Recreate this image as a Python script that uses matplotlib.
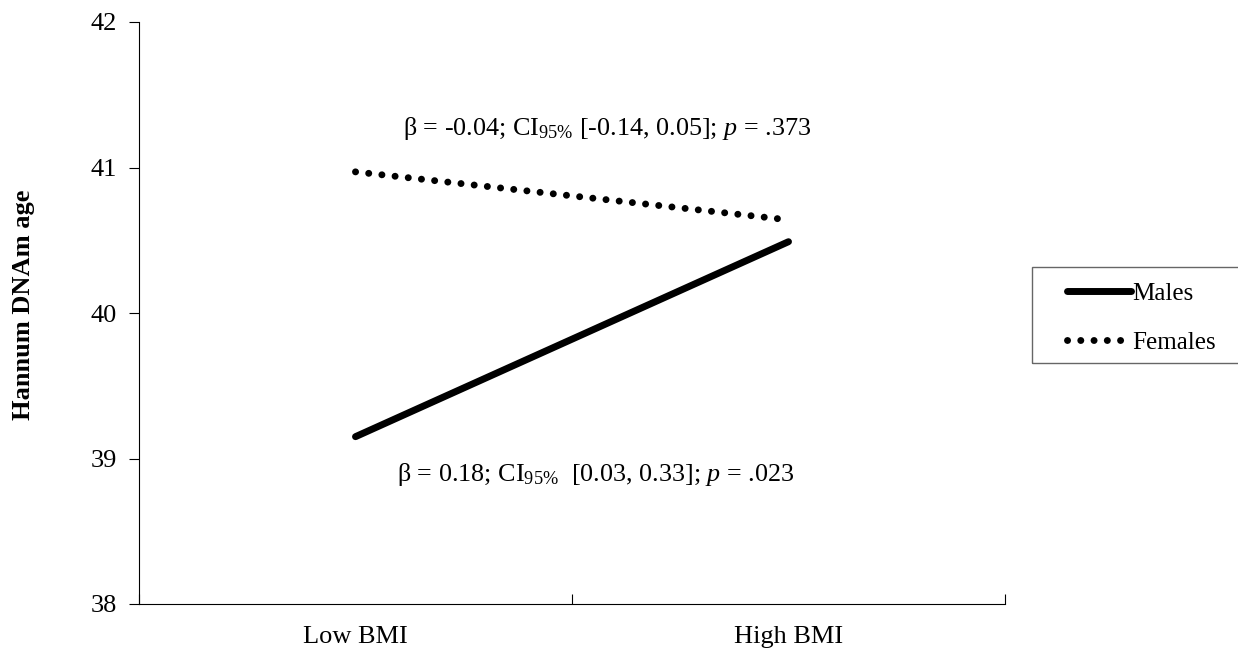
import matplotlib
matplotlib.use("Agg")
import matplotlib.pyplot as plt
from matplotlib.patches import Rectangle

# ---- data ----
categories = ["Low BMI", "High BMI"]
males = [39.15, 40.49]
females = [40.97, 40.64]
y_ticks = [38, 39, 40, 41, 42]
note_females = r"β = -0.04; CI$_{\mathrm{95\%}}$ [-0.14, 0.05]; $p$ = .373"
note_males = r"β = 0.18; CI$_{\mathrm{95\%}}$  [0.03, 0.33]; $p$ = .023"

plt.rcParams["font.family"] = ["Liberation Serif", "DejaVu Serif"]
plt.rcParams["mathtext.fontset"] = "custom"
plt.rcParams["mathtext.rm"] = "Liberation Serif"
plt.rcParams["mathtext.it"] = "Liberation Serif:italic"
plt.rcParams["mathtext.bf"] = "Liberation Serif:bold"

W, H = 1238, 650
fig = plt.figure(figsize=(W / 100, H / 100), dpi=100)
ax = fig.add_axes([139 / W, 46 / H, 866 / W, 582 / H])

x = list(range(len(categories)))
ax.plot(x, males, color="black", linewidth=5, solid_capstyle="round", label="Males")
ax.plot(x, females, color="black", linewidth=5, linestyle=(0, (0.01, 1.9)),
        dash_capstyle="round", label="Females")

ax.set_xlim(-0.5, 1.5)
ax.set_ylim(38, 42)
ax.set_yticks(y_ticks)
ax.set_yticklabels([str(v) for v in y_ticks])
ax.set_xticks([-0.5, 0.5, 1.5])
ax.set_xticklabels([])
ax.set_xticks(x, minor=True)
ax.set_xticklabels(categories, minor=True)
ax.tick_params(axis="x", which="minor", length=0, labelsize=19, pad=16)
ax.tick_params(axis="x", which="major", direction="in", length=7, width=0.8)
ax.tick_params(axis="y", direction="out", length=7, width=0.8, labelsize=19, pad=9)

for side in ["top", "right"]:
    ax.spines[side].set_visible(False)
for side in ["left", "bottom"]:
    ax.spines[side].set_linewidth(0.8)

fig.text(24 / W, 1 - 305 / H, "Hannum DNAm age", fontsize=19, fontweight="bold",
         rotation=90, ha="center", va="center")

ax.text(0.58, 41.27, note_females, fontsize=18.8, ha="center", va="center")
ax.text(0.555, 38.89, note_males, fontsize=18.8, ha="center", va="center")

# legend box (frame drawn separately, runs off the right edge like the original)
fig.patches.append(Rectangle((1032 / W, 1 - 363 / H), 220 / W, 96 / H,
                             transform=fig.transFigure, fill=False,
                             edgecolor="#666666", linewidth=1.0))
leg = fig.legend(loc="center left", bbox_to_anchor=(1067 / W, 1 - 318 / H), fontsize=18,
                 frameon=False, handlelength=2.55, handletextpad=0.05, labelspacing=1.05,
                 borderpad=0, borderaxespad=0)

fig.savefig("out.png", dpi=100)
